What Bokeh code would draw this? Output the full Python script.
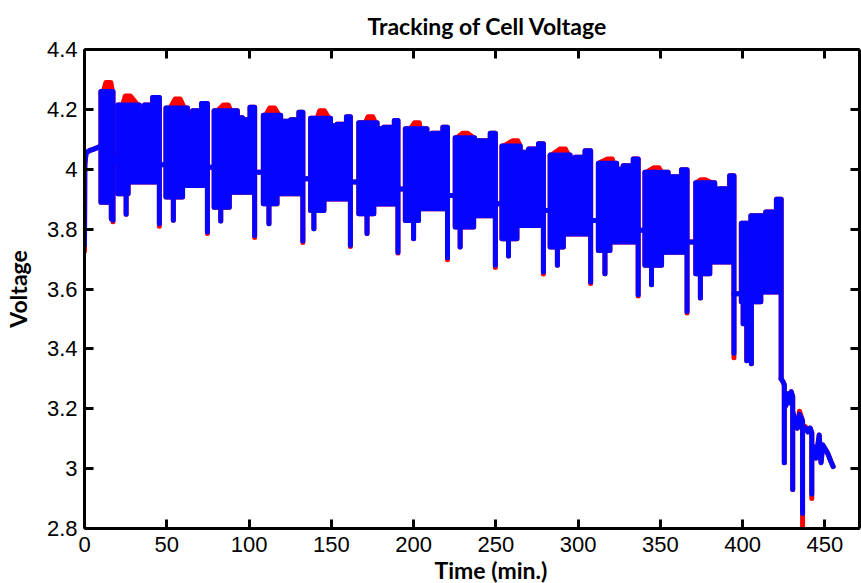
from bokeh.plotting import figure
from bokeh.models import Range1d, LinearAxis, FixedTicker, Title, CustomJSTickFormatter
from bokeh.embed import file_html
from bokeh.resources import INLINE

# ---------------- data ----------------
x_ticks = [0, 50, 100, 150, 200, 250, 300, 350, 400, 450]
y_ticks = [2.8, 3.0, 3.2, 3.4, 3.6, 3.8, 4.0, 4.2, 4.4]
y_tick_labels = ["2.8", "3", "3.2", "3.4", "3.6", "3.8", "4", "4.2", "4.4"]

# initial rest before the first pulse burst
init_t = [0.0, 0.2, 1.0, 3.0, 6.0, 9.0, 10.0]
init_v = [3.745, 4.02, 4.055, 4.062, 4.068, 4.075, 4.075]
init_v_red = [3.725, 4.01, 4.055, 4.062, 4.068, 4.075, 4.075]

# pulse bursts (minutes)
burst_start = [10.0, 20.2, 49.5, 78.8, 108.7, 137.4, 166.7, 195.0, 225.3, 253.7, 283.0, 312.3, 340.6, 371.5, 399.2]
top_lo_from = [17.3, 33.3, 62.6, 92.9, 119.2, 149.5, 177.8, 208.1, 237.0, 264.8, 295.1, 323.4, 354.7, 383.0, 405.0]
top_mid_from = [17.3, 36.4, 65.7, 96.0, 125.3, 153.5, 181.8, 211.1, 238.5, 269.9, 298.1, 327.4, 358.7, 386.0, 414.0]
spike_from = [17.3, 41.4, 71.1, 100.6, 130.3, 159.2, 188.3, 217.8, 246.6, 275.9, 304.2, 333.5, 362.8, 392.1, 420.5]
burst_end = [17.3, 45.5, 74.7, 103.4, 132.7, 161.6, 190.5, 220.6, 249.7, 278.9, 307.6, 336.5, 366.2, 394.7, 423.4]

# upper envelope of the estimated (blue) voltage
top_hi = [4.26, 4.215, 4.205, 4.195, 4.18, 4.17, 4.155, 4.135, 4.105, 4.078, 4.048, 4.02, 3.99, 3.955, 3.82]
top_lo = [4.26, 4.19, 4.17, 4.172, 4.16, 4.145, 4.135, 4.115, 4.095, 4.057, 4.023, 4.0, 3.975, 3.934, 3.845]
top_mid = [4.26, 4.215, 4.195, 4.165, 4.165, 4.15, 4.14, 4.12, 4.095, 4.068, 4.04, 4.012, 3.975, 3.935, 3.857]
top_spike = [4.26, 4.24, 4.22, 4.207, 4.19, 4.175, 4.163, 4.14, 4.12, 4.085, 4.062, 4.034, 3.998, 3.978, 3.90]

# measured (red) peaks
red_peak = [4.29, 4.245, 4.235, 4.215, 4.205, 4.195, 4.175, 4.155, 4.12, 4.095, 4.068, 4.034, 4.005, 3.965, 3.82]
red_peak_at = [14.5, 26.3, 56.6, 85.9, 114.1, 144.4, 173.7, 202.0, 231.3, 261.8, 290.7, 319.3, 347.6, 375.9, 0.0]
red_peak_from = [11.5, 23.2, 52.1, 80.8, 110.1, 141.4, 170.7, 198.0, 226.3, 254.7, 284.0, 312.3, 341.6, 371.9, 0.0]
red_peak_to = [17.0, 32.3, 60.6, 88.9, 118.2, 148.5, 176.8, 204.0, 236.5, 264.8, 294.1, 321.4, 350.7, 381.0, 0.0]

# lower envelope
bottom = [3.985, 3.957, 3.946, 3.923, 3.918, 3.901, 3.884, 3.868, 3.845, 3.812, 3.784, 3.757, 3.723, 3.69, 3.59]
bottom_deep = [3.89, 3.918, 3.907, 3.873, 3.885, 3.862, 3.851, 3.829, 3.807, 3.768, 3.74, 3.729, 3.679, 3.651, 3.557]
deep_until = [16.0, 26.5, 59.6, 88.0, 117.0, 145.5, 175.8, 203.0, 236.5, 262.8, 291.0, 319.3, 350.7, 380.0, 411.0]
dip_time = [13.0, 25.3, 54.0, 82.8, 112.1, 139.4, 171.7, 200.0, 228.3, 257.7, 287.4, 316.3, 344.6, 374.3, 402.5]
dip_value = [3.89, 3.85, 3.83, 3.827, 3.818, 3.801, 3.785, 3.768, 3.74, 3.71, 3.679, 3.651, 3.614, 3.57, 3.36]
dip_end = [3.83, 3.818, 3.79, 3.779, 3.76, 3.746, 3.723, 3.704, 3.679, 3.657, 3.623, 3.581, 3.525, 3.385, 3.30]
red_dip_end = [3.825, 3.81, 3.785, 3.772, 3.755, 3.742, 3.72, 3.698, 3.672, 3.65, 3.618, 3.577, 3.52, 3.37, 3.30]

# rest level after each burst
rest_level = [4.03, 4.015, 4.007, 3.99, 3.968, 3.957, 3.934, 3.912, 3.885, 3.862, 3.829, 3.796, 3.757, 3.584]

# extra isolated dips
extra_dip_t = [16.3, 400.3, 405.3]
extra_dip_v = [3.835, 3.484, 3.35]
extra_dip_from = [3.985, 3.59, 3.557]

# final collapse after the last burst
tail_t = [423.4, 424.5, 425.3, 425.3, 425.3, 426.2, 427.4, 428.4, 429.5, 430.4, 430.4, 430.4, 431.5, 433.3, 434.5,
          436.4, 436.4, 436.4, 438.2, 439.6, 441.0, 442.0, 442.0, 442.0, 443.6, 444.6, 446.5, 447.6, 448.7, 451.7,
          453.7, 455.0]
tail_v = [3.30, 3.29, 3.28, 3.02, 3.22, 3.21, 3.25, 3.22, 3.257, 3.24, 2.93, 3.19, 3.168, 3.135, 3.182,
          3.16, 2.85, 3.13, 3.135, 3.123, 3.135, 3.12, 2.915, 3.08, 3.068, 3.035, 3.112, 3.02, 3.079, 3.051,
          3.023, 3.007]
tail_v_red = [3.30, 3.29, 3.28, 3.02, 3.22, 3.21, 3.25, 3.22, 3.257, 3.24, 2.93, 3.19, 3.168, 3.135, 3.192,
              3.16, 2.79, 3.13, 3.14, 3.123, 3.135, 3.12, 2.90, 3.08, 3.068, 3.035, 3.112, 3.02, 3.079, 3.051,
              3.023, 3.007]

BLUE = "#0505ff"
RED = "#ff0000"
LW = 5
BUMP_HALF = 1.5


def burst_polygon(i, red):
    ts, tl, tm, tk, te = burst_start[i], top_lo_from[i], top_mid_from[i], spike_from[i], burst_end[i]
    hi, lo, mid, spk = top_hi[i], top_lo[i], top_mid[i], top_spike[i]
    bot, deep, tde = bottom[i], bottom_deep[i], deep_until[i]
    d1t, d1v = dip_time[i], dip_value[i]
    de = (red_dip_end if red else dip_end)[i]
    xs = [ts, ts]
    ys = [bot, hi]
    if red and red_peak_to[i] > red_peak_from[i]:
        a, b, c = red_peak_from[i], red_peak_to[i], red_peak_at[i]
        xs += [a, c - BUMP_HALF, c + BUMP_HALF, b]
        ys += [hi, red_peak[i], red_peak[i], hi]
    xs += [tl, tl, tm, tm, tk, tk, te, te, te]
    ys += [hi, lo, lo, mid, mid, spk, spk, de, bot]
    xs += [tde, tde, d1t, d1t, d1t, ts]
    ys += [bot, deep, deep, d1v, deep, deep]
    return xs, ys


def trace_lines(red):
    xs = [list(init_t)]
    ys = [list(init_v_red if red else init_v)]
    for i in range(len(rest_level)):
        xs.append([burst_end[i], burst_start[i + 1]])
        ys.append([rest_level[i], rest_level[i]])
    xs.append(list(tail_t))
    ys.append(list(tail_v_red if red else tail_v))
    return xs, ys


p = figure(width=861, height=583, x_range=Range1d(0, 471), y_range=Range1d(2.8, 4.4),
           output_backend="svg", toolbar_location=None,
           min_border_left=83, min_border_right=2, min_border_top=47, min_border_bottom=40,
           background_fill_color="white", border_fill_color="white")
p.grid.visible = False
p.outline_line_color = None

for red, col in ((True, RED), (False, BLUE)):
    pxs, pys = [], []
    for i in range(len(burst_start)):
        bx, by = burst_polygon(i, red)
        pxs.append(bx)
        pys.append(by)
    p.patches(pxs, pys, fill_color=col, line_color=col, line_width=LW, line_join="round")
    lx, ly = trace_lines(red)
    p.multi_line(lx, ly, line_color=col, line_width=LW, line_join="round", line_cap="round")
    p.segment(x0=extra_dip_t, y0=extra_dip_from, x1=extra_dip_t, y1=extra_dip_v,
              line_color=col, line_width=LW, line_cap="round")

# axes styling
TICK_FONT = "Liberation Sans"
for ax in (p.xaxis[0], p.yaxis[0]):
    ax.axis_line_width = 3
    ax.axis_line_color = "black"
    ax.major_tick_line_width = 3
    ax.major_tick_line_color = "black"
    ax.major_tick_in = 9
    ax.major_tick_out = 0
    ax.minor_tick_line_color = None
    ax.major_label_text_font = TICK_FONT
    ax.major_label_text_font_size = "22px"
    ax.major_label_text_color = "black"
    ax.major_label_standoff = 7
p.xaxis[0].major_label_standoff = 8

p.xaxis[0].ticker = FixedTicker(ticks=x_ticks)
p.yaxis[0].ticker = FixedTicker(ticks=y_ticks)
p.yaxis[0].major_label_overrides = {t: s for t, s in zip(y_ticks, y_tick_labels)}

p.yaxis[0].axis_label = "Voltage"
p.yaxis[0].axis_label_text_font = "Lato"
p.yaxis[0].axis_label_text_font_style = "bold"
p.yaxis[0].axis_label_text_font_size = "23px"
p.yaxis[0].axis_label_text_color = "black"
p.yaxis[0].axis_label_standoff = 12

top_ax = LinearAxis(ticker=FixedTicker(ticks=x_ticks), formatter=CustomJSTickFormatter(code="return ''"),
                    axis_line_width=3, major_tick_line_width=3, major_tick_in=9, major_tick_out=0,
                    minor_tick_line_color=None, major_label_standoff=0)
right_ax = LinearAxis(ticker=FixedTicker(ticks=y_ticks), formatter=CustomJSTickFormatter(code="return ''"),
                      axis_line_width=3, major_tick_line_width=3, major_tick_in=9, major_tick_out=0,
                      minor_tick_line_color=None, major_label_standoff=0)
p.add_layout(top_ax, "above")
p.add_layout(right_ax, "right")

p.title.text = "Tracking of Cell Voltage"
p.title.align = "left"
p.title.offset = 283
p.title.standoff = 19
p.title.text_font = "Lato"
p.title.text_font_style = "bold"
p.title.text_font_size = "23px"
p.title.text_color = "black"

p.add_layout(Title(text="Time (min.)", align="left", offset=350, standoff=-1, text_font="Lato",
                   text_font_style="bold", text_font_size="23px", text_color="black"), "below")

open("out.html", "w").write(file_html(p, INLINE))
